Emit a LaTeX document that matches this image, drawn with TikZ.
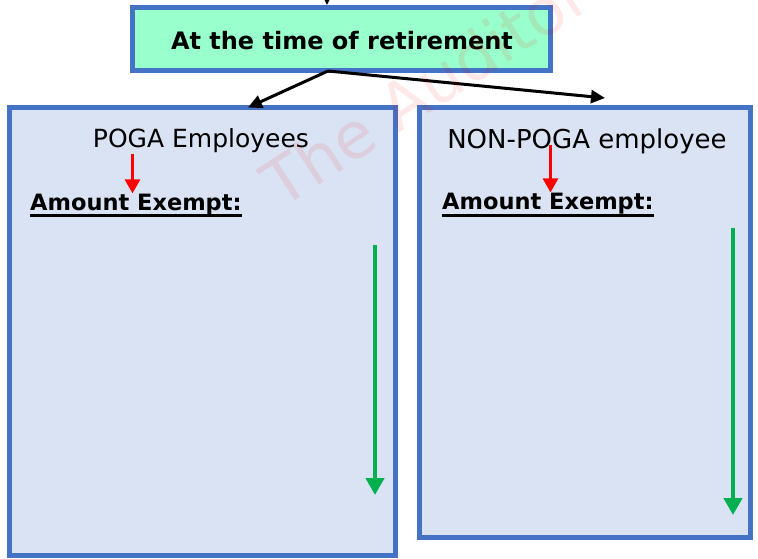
\documentclass[tikz,border=0pt]{standalone}
\usepackage{fontspec}
\setmainfont{DejaVu Sans}
\usepackage{tikz}
\usetikzlibrary{arrows.meta, positioning}
\definecolor{frameblue}{RGB}{68,114,196}
\definecolor{mintgreen}{RGB}{153,255,204}
\definecolor{paleblue}{RGB}{218,227,243}
\definecolor{downgreen}{RGB}{0,176,80}
\definecolor{markred}{RGB}{255,0,0}

\begin{document}
\begin{tikzpicture}[x=1pt, y=-1pt,
    panel/.style={draw=frameblue, line width=5pt, fill=paleblue, inner sep=0pt, outer sep=0pt},
    flow/.style={line width=3pt, -{Triangle[length=14pt, width=13pt]}},
    pointer/.style={markred, line width=3pt, -{Triangle[length=14pt, width=15pt]}},
    drop/.style={downgreen, line width=4.5pt, -{Triangle[length=17pt, width=18pt]}}]
    \useasboundingbox (0,0) rectangle (758,559);

    % Boxes
    \node[panel, fill=mintgreen, minimum width=418pt, minimum height=63.5pt] (retire) at (341.5, 39.25) {};
    \node[panel, minimum width=386pt, minimum height=447.5pt] (poga) at (202.5, 331.25) {};
    \node[panel, minimum width=331pt, minimum height=430pt] (nonpoga) at (585, 322.5) {};

    % Labels
    \node[font=\bfseries\fontsize{24}{28}\selectfont] (retiretext) at (342, 41) {At the time of retirement};
    \node[font=\fontsize{25}{30}\selectfont] (pogatitle) at (201, 141) {POGA Employees};
    \node[font=\fontsize{26}{31}\selectfont] (nonpogatitle) at (587, 141) {NON-POGA employee};
    \node[font=\bfseries\fontsize{22.5}{27}\selectfont, inner sep=0pt, anchor=base west] (amtL) at (30, 210) {Amount Exempt:};
    \node[font=\bfseries\fontsize{22.5}{27}\selectfont, inner sep=0pt, anchor=base west] (amtR) at (442, 209) {Amount Exempt:};
    \draw[line width=2.8pt] ([yshift=-5.5pt]amtL.base west) -- ([yshift=-5.5pt]amtL.base east);
    \draw[line width=2.8pt] ([yshift=-6.5pt]amtR.base west) -- ([yshift=-6.5pt]amtR.base east);

    % Connectors
    \coordinate (source) at (327, -20);
    \coordinate (split) at (328, 71);
    \draw[flow, shorten >=2.5pt] (source) -- (source |- retire.north);
    \draw[flow] (split) -- ([xshift=45.5pt]poga.north);
    \draw[flow] (split) -- ([xshift=20pt, yshift=9.5pt]nonpoga.north);

    % Pointers and downward arrows
    \coordinate (redL) at (132.5, 154);
    \coordinate (redR) at (550.5, 145);
    \draw[pointer] (redL) -- (redL |- amtL.north);
    \draw[pointer] (redR) -- (redR |- amtR.north);
    \coordinate (greenL) at (375, 245);
    \coordinate (greenR) at (733, 228);
    \draw[drop] (greenL) -- (375, 495);
    \draw[drop] (greenR) -- (733, 515);

    % Watermark
    \node[rotate=33, font=\fontsize{64}{70}\selectfont, text=markred, opacity=0.09] (mark) at (425, 88) {The Auditor};
\end{tikzpicture}
\end{document}
